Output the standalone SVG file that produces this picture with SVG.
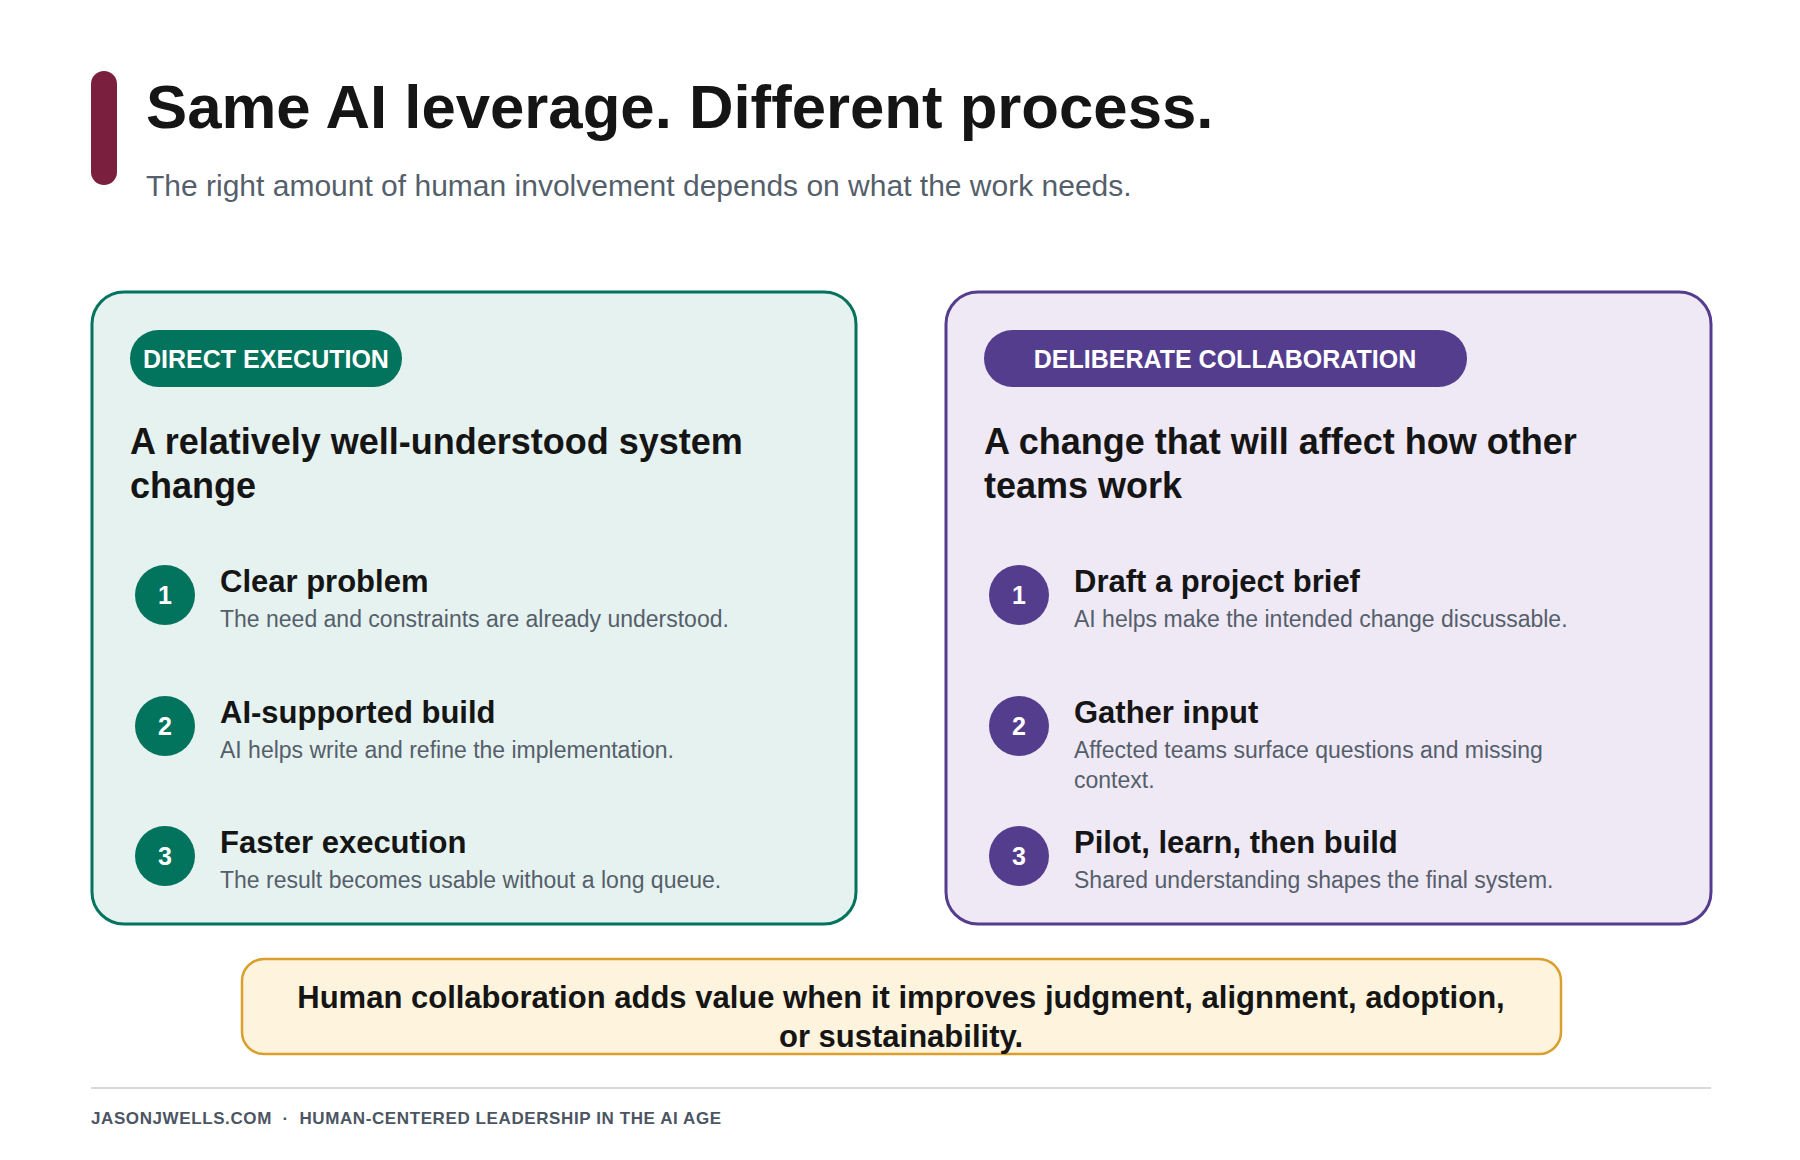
<svg xmlns="http://www.w3.org/2000/svg" width="1800" height="1160" viewBox="0 0 1800 1160">
<style>
text{font-family:"Liberation Sans",Arial,sans-serif}
.h{font-weight:bold;fill:#151515}
.badge{font-weight:bold;font-size:25px;fill:#fff;text-anchor:middle}
.head{font-weight:bold;font-size:36px;fill:#151515}
.it{font-weight:bold;font-size:31px;fill:#151515}
.ds{font-size:23px;fill:#555f6b}
.num{font-weight:bold;font-size:25px;fill:#fff;text-anchor:middle}
.t{fill:#02735c}.p{fill:#553d8e}
</style>
<rect width="1800" height="1160" fill="#fff"/>
<g id="header">
<rect x="91" y="71" width="26" height="114" rx="13" fill="#7a1f3d"/>
<text x="146" y="128" class="h" font-size="61.7">Same AI leverage. Different process.</text>
<text x="146" y="196" font-size="30" fill="#555f6b">The right amount of human involvement depends on what the work needs.</text>
</g>
<g id="connectors"></g>
<g id="card-direct">
<rect x="92" y="292" width="764" height="632" rx="32" fill="#e6f2ef" stroke="#02735c" stroke-width="3"/>
<rect x="130" y="330" width="272" height="57" rx="28.5" class="t"/>
<text x="266" y="368" class="badge">DIRECT EXECUTION</text>
<text x="130" y="454" class="head">A relatively well-understood system</text>
<text x="130" y="498" class="head">change</text>
<circle cx="165" cy="595" r="30" class="t"/><text x="165" y="604" class="num">1</text>
<text x="220" y="592" class="it">Clear problem</text>
<text x="220" y="627" class="ds">The need and constraints are already understood.</text>
<circle cx="165" cy="726" r="30" class="t"/><text x="165" y="735" class="num">2</text>
<text x="220" y="723" class="it">AI-supported build</text>
<text x="220" y="758" class="ds">AI helps write and refine the implementation.</text>
<circle cx="165" cy="856" r="30" class="t"/><text x="165" y="865" class="num">3</text>
<text x="220" y="853" class="it">Faster execution</text>
<text x="220" y="888" class="ds">The result becomes usable without a long queue.</text>
</g>
<g id="card-deliberate">
<rect x="946" y="292" width="765" height="632" rx="32" fill="#efe9f5" stroke="#553d8e" stroke-width="3"/>
<rect x="984" y="330" width="483" height="57" rx="28.5" class="p"/>
<text x="1225" y="368" class="badge">DELIBERATE COLLABORATION</text>
<text x="984" y="454" class="head">A change that will affect how other</text>
<text x="984" y="498" class="head">teams work</text>
<circle cx="1019" cy="595" r="30" class="p"/><text x="1019" y="604" class="num">1</text>
<text x="1074" y="592" class="it">Draft a project brief</text>
<text x="1074" y="627" class="ds">AI helps make the intended change discussable.</text>
<circle cx="1019" cy="726" r="30" class="p"/><text x="1019" y="735" class="num">2</text>
<text x="1074" y="723" class="it">Gather input</text>
<text x="1074" y="758" class="ds">Affected teams surface questions and missing</text>
<text x="1074" y="788" class="ds">context.</text>
<circle cx="1019" cy="856" r="30" class="p"/><text x="1019" y="865" class="num">3</text>
<text x="1074" y="853" class="it">Pilot, learn, then build</text>
<text x="1074" y="888" class="ds">Shared understanding shapes the final system.</text>
</g>
<g id="takeaway">
<rect x="242" y="959" width="1319" height="95" rx="22" fill="#fef3dc" stroke="#d99e2b" stroke-width="2.5"/>
<text x="901" y="1008" class="h" font-size="31" text-anchor="middle">Human collaboration adds value when it improves judgment, alignment, adoption,</text>
<text x="901" y="1047" class="h" font-size="31" text-anchor="middle">or sustainability.</text>
</g>
<g id="footer">
<line x1="91" y1="1088" x2="1711" y2="1088" stroke="#d5d8dd" stroke-width="2"/>
<text x="91" y="1124" font-size="17" font-weight="bold" fill="#4b5563" letter-spacing="0.6" xml:space="preserve">JASONJWELLS.COM  ·  HUMAN-CENTERED LEADERSHIP IN THE AI AGE</text>
</g>
</svg>
